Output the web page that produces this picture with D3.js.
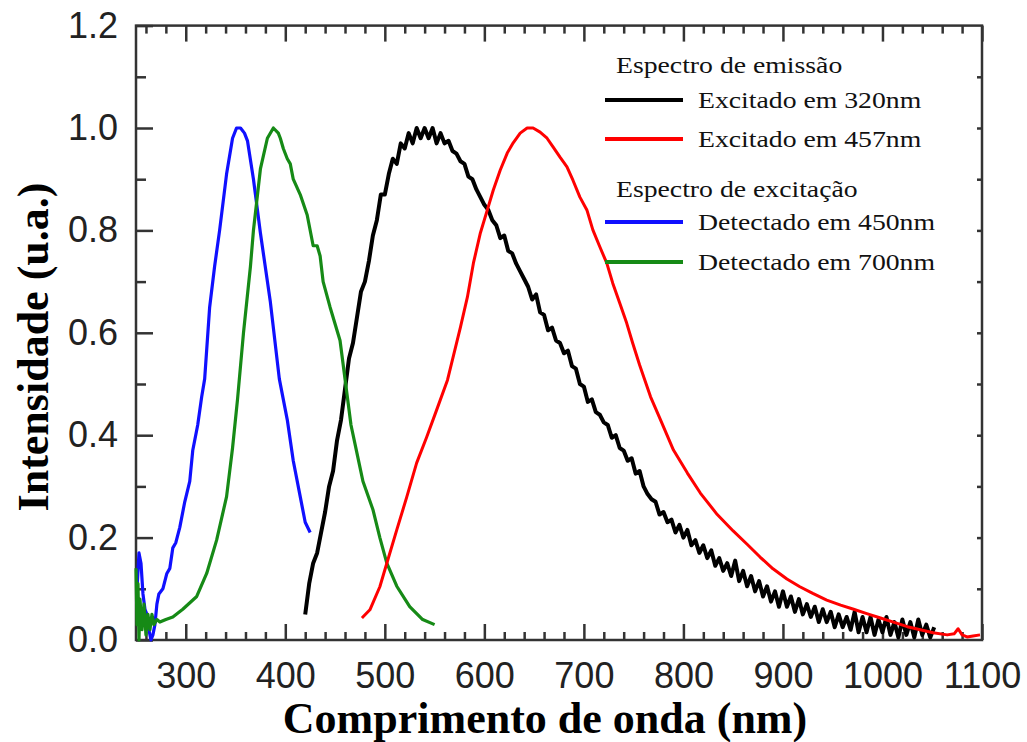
<!DOCTYPE html>
<html>
<head>
<meta charset="utf-8">
<script src="https://cdn.jsdelivr.net/npm/d3@7"></script>
<style>
  body { margin: 0; background: #fff; }
  .tick text { font-family: "Liberation Sans", Arial, sans-serif; font-size: 36px; fill: #222; }
  .tick line { stroke: #333; stroke-width: 2.5; }
</style>
</head>
<body>
<svg width="1027" height="742"></svg>
<script>
// excitation spectrum, detected at 450nm
var blueNm  = [251,253,255,257,259,261,263,265,267,269,271,273,277,281,284,287,290,294,299,304,307,312,316,319,324,329,334,341,347,351,355,359,362,368,375,385,394,402,408,415,420,425];
var blueVal = [0.10,0.17,0.15,0.09,0.06,0.05,0.02,0.0,0.01,0.03,0.07,0.09,0.10,0.13,0.14,0.18,0.19,0.22,0.27,0.31,0.37,0.42,0.475,0.51,0.65,0.73,0.80,0.91,0.98,1.0,1.0,0.99,0.975,0.90,0.795,0.66,0.51,0.43,0.35,0.28,0.23,0.21];

// excitation spectrum, detected at 700nm
var greenNm  = [250,251,252,253,254,256,258,260,262,264,266,268,271,274,280,287,297,311,321,331,341,347,352,358,365,368,375,382,388,393,395,398,402,405,408,415,422,428,432,435,438,445,455,458,462,466,472,478,488,495,502,512,525,538,550];
var greenVal = [0.14,0.03,0.11,0.0,0.08,0.02,0.07,0.01,0.05,0.02,0.05,0.03,0.04,0.035,0.04,0.045,0.06,0.085,0.13,0.195,0.28,0.375,0.47,0.60,0.73,0.80,0.92,0.98,1.0,0.99,0.98,0.96,0.94,0.93,0.90,0.87,0.83,0.77,0.77,0.75,0.70,0.65,0.585,0.54,0.48,0.42,0.365,0.31,0.255,0.20,0.15,0.105,0.065,0.04,0.03];

// emission spectrum, excited at 320nm (noisy)
var blackNm = [420,424,428,432,436,440,444,448,452,456,460,464,468,472,476,480,484,488,492,496,500,504,508,512,516,520,524,528,532,536,540,544,548,552,556,560,564,568,572,576,580,584,588,592,596,600,604,608,612,616,620,624,628,632,636,640,644,648,652,656,660,664,668,672,676,680,684,688,692,696,700,704,708,712,716,720,724,728,732,736,740,744,748,752,756,760,764,768,772,776,780,784,788,792,796,800,804,808,812,816,820,824,828,832,836,840,844,848,852,856,860,864,868,872,876,880,884,888,892,896,900,904,908,912,916,920,924,928,932,936,940,944,948,952,956,960,964,968,972,976,980,984,988,992,996,1000,1004,1008,1012,1016,1020,1024,1028,1032,1036,1040,1044,1048,1052];
var blackVal = [0.05,0.11,0.15,0.17,0.21,0.25,0.30,0.33,0.39,0.43,0.49,0.55,0.58,0.63,0.68,0.70,0.74,0.79,0.82,0.87,0.87,0.91,0.94,0.93,0.97,0.96,0.99,0.97,1.0,0.98,1.0,0.98,1.0,0.97,0.99,0.97,0.975,0.955,0.95,0.935,0.93,0.905,0.90,0.88,0.865,0.85,0.84,0.82,0.81,0.785,0.79,0.76,0.755,0.735,0.72,0.705,0.69,0.665,0.675,0.64,0.635,0.605,0.61,0.585,0.58,0.56,0.565,0.535,0.53,0.50,0.495,0.465,0.47,0.445,0.44,0.425,0.42,0.395,0.40,0.375,0.37,0.35,0.355,0.325,0.33,0.30,0.285,0.275,0.27,0.245,0.25,0.23,0.235,0.21,0.225,0.20,0.215,0.185,0.195,0.17,0.185,0.16,0.175,0.145,0.16,0.135,0.15,0.125,0.155,0.115,0.135,0.105,0.125,0.095,0.115,0.085,0.105,0.075,0.095,0.065,0.095,0.065,0.085,0.055,0.08,0.05,0.07,0.045,0.065,0.035,0.06,0.035,0.055,0.025,0.05,0.025,0.045,0.02,0.055,0.015,0.045,0.015,0.045,0.01,0.04,0.015,0.045,0.01,0.035,0.005,0.04,0.01,0.035,0.005,0.04,0.01,0.03,0.005,0.025];

// emission spectrum, excited at 457nm
var redNm  = [477,485,495,502,512,522,532,542,552,563,576,583,589,596,603,609,616,623,629,636,643,649,656,663,669,676,683,689,696,703,709,716,723,729,736,743,749,756,767,777,790,804,817,834,850,864,877,890,904,917,930,944,958,971,985,998,1011,1025,1038,1051,1065,1072,1076,1080,1085,1091,1098];
var redVal = [0.043,0.059,0.104,0.150,0.215,0.279,0.346,0.396,0.449,0.508,0.611,0.670,0.736,0.795,0.840,0.879,0.918,0.951,0.971,0.990,1.0,1.0,0.992,0.980,0.963,0.943,0.924,0.898,0.865,0.840,0.801,0.768,0.736,0.697,0.658,0.619,0.580,0.537,0.475,0.430,0.371,0.326,0.287,0.245,0.213,0.187,0.162,0.139,0.119,0.104,0.091,0.078,0.068,0.060,0.051,0.043,0.035,0.026,0.020,0.014,0.010,0.012,0.022,0.010,0.006,0.008,0.010];

var xMajor = [300,400,500,600,700,800,900,1000,1100];
var yMajor = [0.0,0.2,0.4,0.6,0.8,1.0,1.2];

var legendGroups = ["Espectro de emissão", "Espectro de excitação"];
var legendLabels = ["Excitado em 320nm", "Excitado em 457nm", "Detectado em 450nm", "Detectado em 700nm"];
var legendColors = ["#000000", "#ff0000", "#1010ff", "#168a16"];

var svg = d3.select("svg"),
    margin = {top: 25.6, right: 45, bottom: 102, left: 136},
    width = 1027 - margin.left - margin.right,
    height = 742 - margin.top - margin.bottom;

var x = d3.scaleLinear().domain([250, 1100]).range([0, width]),
    y = d3.scaleLinear().domain([0, 1.2]).range([height, 0]);

var g = svg.append("g")
    .attr("transform", "translate(" + margin.left + "," + margin.top + ")");

// minor tick positions
var xMinor = d3.range(260, 1100, 20).filter(function(d){ return d % 100 != 0; });
var yMinor = [0.1,0.3,0.5,0.7,0.9,1.1];
var yRight = d3.range(1, 12).map(function(d){ return d / 10; });

g.append("g")
    .attr("transform", "translate(0," + height + ")")
    .call(d3.axisBottom(x).tickValues(xMajor).tickSize(-16).tickPadding(22).tickFormat(d3.format("d")));
g.append("g")
    .attr("transform", "translate(0," + height + ")")
    .call(d3.axisBottom(x).tickValues(xMinor).tickSize(-8).tickFormat(""));
g.append("g")
    .call(d3.axisTop(x).tickValues(xMajor).tickSize(-16).tickFormat(""));
g.append("g")
    .call(d3.axisTop(x).tickValues(xMinor).tickSize(-8).tickFormat(""));
g.append("g")
    .call(d3.axisLeft(y).tickValues(yMajor).tickSize(-17).tickPadding(18).tickFormat(d3.format(".1f")));
g.append("g")
    .call(d3.axisLeft(y).tickValues(yMinor).tickSize(-10).tickFormat(""));
g.append("g")
    .attr("transform", "translate(" + width + ",0)")
    .call(d3.axisRight(y).tickValues(yRight).tickSize(-5).tickFormat(""));

g.selectAll(".domain").remove();

g.append("rect")
    .attr("width", width)
    .attr("height", height)
    .attr("fill", "none")
    .attr("stroke", "#333")
    .attr("stroke-width", 2.5);

var line = d3.line()
    .x(function(d) { return x(d[0]); })
    .y(function(d) { return y(d[1]); });

function pairs(a, b) { return a.map(function(v, i) { return [v, b[i]]; }); }

var series = [
    {data: pairs(blackNm, blackVal), color: legendColors[0], w: 4},
    {data: pairs(blueNm, blueVal), color: legendColors[2], w: 3.2},
    {data: pairs(greenNm, greenVal), color: legendColors[3], w: 3.2},
    {data: pairs(redNm, redVal), color: legendColors[1], w: 3}
];

g.selectAll(".curve")
    .data(series)
    .enter().append("path")
    .attr("class", "curve")
    .attr("d", function(d) { return line(d.data); })
    .attr("fill", "none")
    .attr("stroke", function(d) { return d.color; })
    .attr("stroke-width", function(d) { return d.w; })
    .attr("stroke-linejoin", "round");

// legend
var serif = "'Liberation Serif', 'Times New Roman', serif";
var lg = svg.append("g");
var groupY = [73, 197];
lg.selectAll(".lgroup")
    .data(legendGroups)
    .enter().append("text")
    .attr("transform", function(d, i) { return "translate(616," + groupY[i] + ") scale(1.18,1)"; })
    .attr("font-family", serif)
    .attr("font-size", "23.5px")
    .attr("fill", "#111")
    .text(function(d) { return d; });

var itemY = [100, 139, 222, 262];
var items = lg.selectAll(".litem")
    .data(legendLabels)
    .enter().append("g")
    .attr("transform", function(d, i) { return "translate(0," + itemY[i] + ")"; });
items.append("line")
    .attr("x1", 605).attr("x2", 683)
    .attr("stroke", function(d, i) { return legendColors[i]; })
    .attr("stroke-width", 4);
items.append("text")
    .attr("transform", "translate(698,8) scale(1.18,1)")
    .attr("font-family", serif)
    .attr("font-size", "23.5px")
    .attr("fill", "#111")
    .text(function(d) { return d; });

// axis titles
svg.append("text")
    .attr("x", 545)
    .attr("y", 733)
    .attr("text-anchor", "middle")
    .attr("font-family", serif)
    .attr("font-weight", "bold")
    .attr("font-size", "44px")
    .attr("fill", "#000")
    .text("Comprimento de onda (nm)");

svg.append("text")
    .attr("transform", "translate(48,347) rotate(-90)")
    .attr("text-anchor", "middle")
    .attr("font-family", serif)
    .attr("font-weight", "bold")
    .attr("font-size", "44px")
    .attr("fill", "#000")
    .text("Intensidade (u.a.)");
</script>
</body>
</html>
